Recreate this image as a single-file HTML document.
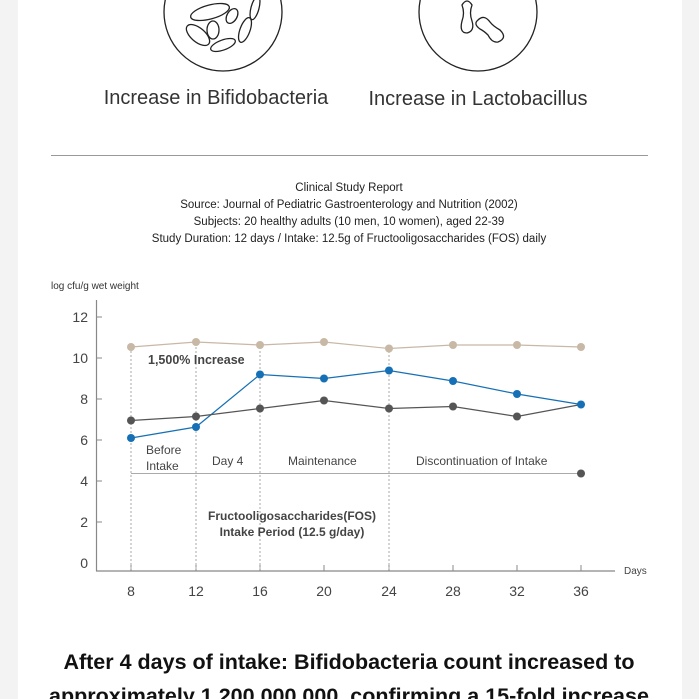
<!DOCTYPE html><html><head><style>
body{margin:0;width:699px;height:699px;overflow:hidden;background:#f3f3f3;font-family:"Liberation Sans",sans-serif}
.card{position:absolute;left:18px;top:0;width:664px;height:699px;background:#fff}
</style></head><body><div class="card"></div>
<svg width="699" height="699" style="position:absolute;left:0;top:0" font-family="Liberation Sans, sans-serif">
<g fill="none" stroke="#222" stroke-width="1.3">
<circle cx="223" cy="12" r="59"/><circle cx="478" cy="12" r="59"/>
<ellipse cx="210" cy="12" rx="20" ry="7" transform="rotate(-15 210 12)"/>
<ellipse cx="213" cy="30" rx="6" ry="9"/>
<ellipse cx="198" cy="35" rx="14" ry="7" transform="rotate(40 198 35)"/>
<ellipse cx="223" cy="45" rx="13" ry="5" transform="rotate(-20 223 45)"/>
<ellipse cx="245" cy="30" rx="5" ry="13" transform="rotate(20 245 30)"/>
<ellipse cx="232" cy="16" rx="5" ry="8" transform="rotate(30 232 16)"/>
<ellipse cx="255" cy="8" rx="4" ry="12" transform="rotate(15 255 8)"/>
<path d="M462 5 q5 -8 10 0 q-3 8 0 16 q3 10 -5 12 q-8 0 -5 -12 q3 -8 0 -16z"/>
<path d="M478 20 q6 -6 12 2 q3 4 10 8 q8 8 -2 12 q-6 1 -10 -7 q-4 -4 -8 -6 q-7 -5 -2 -9z"/>
</g>
<text x="216" y="104" font-size="20" fill="#333" text-anchor="middle">Increase in Bifidobacteria</text>
<text x="478" y="105" font-size="20" fill="#333" text-anchor="middle">Increase in Lactobacillus</text>
<line x1="51" y1="155.5" x2="648" y2="155.5" stroke="#999"/>
<g font-size="11.5" fill="#222" text-anchor="middle">
<text x="349" y="191">Clinical Study Report</text>
<text x="349" y="208">Source: Journal of Pediatric Gastroenterology and Nutrition (2002)</text>
<text x="349" y="225">Subjects: 20 healthy adults (10 men, 10 women), aged 22-39</text>
<text x="349" y="242">Study Duration: 12 days  /  Intake: 12.5g of Fructooligosaccharides (FOS) daily</text>
</g>
<text x="51" y="289" font-size="10" fill="#333">log cfu/g wet weight</text>
<g stroke="#888" stroke-width="1.2"><line x1="96.5" y1="300" x2="96.5" y2="571"/><line x1="96" y1="571" x2="615" y2="571"/></g>
<g font-size="14" fill="#444" text-anchor="end">
<text x="88" y="322">12</text><text x="88" y="363">10</text><text x="88" y="404">8</text><text x="88" y="445">6</text><text x="88" y="486">4</text><text x="88" y="527">2</text><text x="88" y="568">0</text></g>
<g stroke="#888"><line x1="96" y1="317" x2="102" y2="317"/><line x1="96" y1="358" x2="102" y2="358"/><line x1="96" y1="399" x2="102" y2="399"/><line x1="96" y1="440" x2="102" y2="440"/><line x1="96" y1="481" x2="102" y2="481"/><line x1="96" y1="522" x2="102" y2="522"/>
<line x1="131" y1="565" x2="131" y2="571"/><line x1="196" y1="565" x2="196" y2="571"/><line x1="260" y1="565" x2="260" y2="571"/><line x1="324" y1="565" x2="324" y2="571"/><line x1="389" y1="565" x2="389" y2="571"/><line x1="453" y1="565" x2="453" y2="571"/><line x1="517" y1="565" x2="517" y2="571"/><line x1="581" y1="565" x2="581" y2="571"/></g>
<g font-size="14" fill="#444" text-anchor="middle">
<text x="131" y="596">8</text><text x="196" y="596">12</text><text x="260" y="596">16</text><text x="324" y="596">20</text><text x="389" y="596">24</text><text x="453" y="596">28</text><text x="517" y="596">32</text><text x="581" y="596">36</text></g>
<text x="624" y="574" font-size="10" fill="#444">Days</text>
<g stroke="#aaa" stroke-dasharray="2,2"><line x1="131" y1="347" x2="131" y2="570"/><line x1="196" y1="347" x2="196" y2="570"/><line x1="260" y1="347" x2="260" y2="570"/><line x1="389" y1="347" x2="389" y2="570"/></g>
<line x1="131" y1="473.5" x2="581" y2="473.5" stroke="#aaa"/><circle cx="581" cy="473.5" r="4" fill="#555"/>
<g fill="none" stroke-width="1.2">
<polyline stroke="#c8b8a6" points="131,347 196,342 260,345 324,342 389,348.5 453,345 517,345 581,347"/>
<polyline stroke="#1670b5" points="131,438 196,427 260,374.5 324,378.5 389,370.5 453,381 517,394 581,404.5"/>
<polyline stroke="#555" points="131,420.5 196,416.5 260,408.5 324,400.5 389,408.5 453,406.5 517,416.5 581,404.5"/>
</g>
<g fill="#c8b8a6"><circle cx="131" cy="347" r="4"/><circle cx="196" cy="342" r="4"/><circle cx="260" cy="345" r="4"/><circle cx="324" cy="342" r="4"/><circle cx="389" cy="348.5" r="4"/><circle cx="453" cy="345" r="4"/><circle cx="517" cy="345" r="4"/><circle cx="581" cy="347" r="4"/></g>
<g fill="#555"><circle cx="131" cy="420.5" r="4"/><circle cx="196" cy="416.5" r="4"/><circle cx="260" cy="408.5" r="4"/><circle cx="324" cy="400.5" r="4"/><circle cx="389" cy="408.5" r="4"/><circle cx="453" cy="406.5" r="4"/><circle cx="517" cy="416.5" r="4"/></g>
<g fill="#1670b5"><circle cx="131" cy="438" r="4"/><circle cx="196" cy="427" r="4"/><circle cx="260" cy="374.5" r="4"/><circle cx="324" cy="378.5" r="4"/><circle cx="389" cy="370.5" r="4"/><circle cx="453" cy="381" r="4"/><circle cx="517" cy="394" r="4"/><circle cx="581" cy="404.5" r="4"/></g>
<text x="148" y="364" font-size="12.5" fill="#444" font-weight="bold">1,500% Increase</text>
<g font-size="12" fill="#444"><text x="146" y="454">Before</text><text x="146" y="470">Intake</text>
<text x="212" y="465">Day 4</text><text x="288" y="465">Maintenance</text><text x="416" y="465">Discontinuation of Intake</text></g>
<g font-size="12" fill="#444" font-weight="bold" text-anchor="middle"><text x="292" y="520">Fructooligosaccharides(FOS)</text><text x="292" y="536">Intake Period (12.5 g/day)</text></g>
<g font-size="21.5" font-weight="bold" fill="#111" text-anchor="middle"><text x="349" y="669">After 4 days of intake: Bifidobacteria count increased to</text>
<text x="349" y="703">approximately 1,200,000,000, confirming a 15-fold increase</text></g>
</svg></body></html>
